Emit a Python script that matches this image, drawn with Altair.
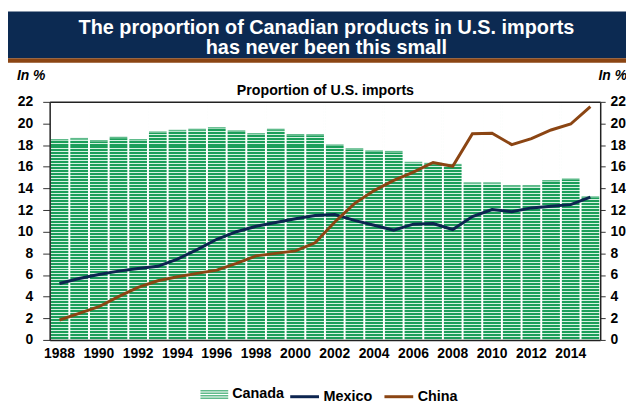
import altair as alt
import pandas as pd

# ---- data ----
years = list(range(1988, 2016))
canada = [18.5, 18.6, 18.4, 18.7, 18.5, 19.2, 19.35, 19.45, 19.6, 19.3, 19.05, 19.45, 18.95, 18.95,
          18.0, 17.65, 17.45, 17.4, 16.4, 16.3, 16.2, 14.5, 14.5, 14.25, 14.25, 14.7, 14.85, 13.2]
mexico = [5.22, 5.68, 6.05, 6.36, 6.6, 6.8, 7.47, 8.35, 9.3, 10.0, 10.5, 10.85, 11.2, 11.5,
          11.58, 11.05, 10.6, 10.15, 10.7, 10.75, 10.2, 11.4, 12.05, 11.85, 12.2, 12.35, 12.5, 13.2]
china = [1.84, 2.45, 3.07, 4.0, 4.85, 5.47, 5.84, 6.15, 6.45, 7.07, 7.77, 8.0, 8.23, 8.97,
         10.9, 12.6, 13.8, 14.75, 15.5, 16.4, 16.05, 19.05, 19.1, 18.05, 18.6, 19.4, 19.95, 21.55]
y_ticks = list(range(0, 23, 2))
x_labels = list(range(1988, 2015, 2))
title_lines = ["The proportion of Canadian products in U.S. imports", "has never been this small"]
subtitle = "Proportion of U.S. imports"
unit = "In %"

FONT = "Liberation Sans"
NAVY = "#0c2a52"
BROWN = "#8b4513"
MEX = "#0d2550"
DARK_G = "#1b9e5a"
LIGHT_G = "#d6f2e2"
W, H = 555, 240

wide = pd.DataFrame({"Year": years, "Canada": canada, "Country": ["Canada"] * len(years)})
long = pd.DataFrame({
    "Year": years * 2,
    "Series": ["Mexico"] * len(years) + ["China"] * len(years),
    "Value": mexico + china,
})

# striped fill (80 stripes over the 0..22 range -> 3px period)
N = 80
stops = []
for k in range(N):
    a, b, c = k / N, (k + 2 / 3) / N, (k + 1) / N
    stops += [{"offset": a, "color": DARK_G}, {"offset": b, "color": DARK_G},
              {"offset": b, "color": LIGHT_G}, {"offset": c, "color": LIGHT_G}]
stripes = {"gradient": "linear", "x1": 0, "y1": 0, "x2": 0, "y2": 1, "stops": stops}

xscale = alt.Scale(paddingInner=0.1, paddingOuter=0.05)
yscale = alt.Scale(domain=[0, 22], nice=False)

lab = dict(labelFont=FONT, labelFontWeight="bold", labelFontSize=14, labelColor="black")

base = alt.Chart(wide)

stripe_layer = base.mark_bar(fill=stripes).encode(
    x=alt.X("Year:O", scale=xscale,
            axis=alt.Axis(orient="bottom", title=None, labelAngle=0, ticks=False, values=x_labels,
                          labelPadding=7, domain=True, domainColor="#222", domainWidth=1.5, zindex=1, **lab)),
    y=alt.Y(datum=22, type="quantitative", scale=yscale,
            axis=alt.Axis(orient="left", title=None, values=y_ticks, tickSize=7, tickColor="#333",
                          labelPadding=10, domainColor="#222", domainWidth=1.5, grid=False, zindex=1, **lab)),
    y2=alt.Y2(datum=0),
)

mask_layer = base.mark_bar(color="white", stroke="white", strokeWidth=1.5).encode(
    x=alt.X("Year:O", scale=xscale,
            axis=alt.Axis(orient="top", title=None, labels=False, ticks=False, domain=True,
                          domainColor="#222", domainWidth=1.5, zindex=1)),
    y=alt.Y("Canada:Q", scale=yscale, axis=None),
    y2=alt.Y2(datum=22),
)

canada_path = ("M-1,-0.321H1V-0.214H-1Z M-1,-0.143H1V-0.036H-1Z "
               "M-1,0.036H1V0.143H-1Z M-1,0.214H1V0.321H-1Z")

top_layer = base.mark_tick(thickness=1.5, size=17.8, orient="horizontal").encode(
    x=alt.X("Year:O", scale=xscale, axis=None),
    y=alt.Y("Canada:Q", scale=yscale, axis=None),
    color=alt.Color("Country:N", scale=alt.Scale(domain=["Canada"], range=[DARK_G]),
                    legend=alt.Legend(title=None, orient="none", legendX=152, legendY=281,
                                      symbolType=canada_path, symbolSize=784, symbolStrokeWidth=0,
                                      labelOffset=4, labelFont=FONT, labelFontWeight="bold",
                                      labelFontSize=14.5, labelColor="black")),
)

line_layer = alt.Chart(long).mark_line(strokeWidth=3).encode(
    x=alt.X("Year:O", scale=xscale, axis=None),
    y=alt.Y("Value:Q", scale=yscale,
            axis=alt.Axis(orient="right", title=None, values=y_ticks, tickSize=5, tickColor="#333",
                          labelPadding=5, domainColor="#222", domainWidth=1.5, grid=False, zindex=1, **lab)),
    stroke=alt.Stroke("Series:N", scale=alt.Scale(domain=["Mexico", "China"], range=[MEX, BROWN]),
                      legend=alt.Legend(title=None, orient="none", legendX=241, legendY=281,
                                        direction="horizontal", symbolType="stroke", symbolSize=841,
                                        symbolStrokeWidth=3, labelOffset=3, columnPadding=5,
                                        labelFont=FONT, labelFontWeight="bold", labelFontSize=14.5,
                                        labelColor="black")),
    order=alt.Order("Year:O"),
)

one = pd.DataFrame({"k": [0]})
banner = alt.Chart(one).mark_rect(color=NAVY).encode(
    x=alt.value(-43), x2=alt.value(590), y=alt.value(-91), y2=alt.value(-44))
brown = alt.Chart(one).mark_rect(color=BROWN).encode(
    x=alt.value(-43), x2=alt.value(590), y=alt.value(-44), y2=alt.value(-39.5))


def text_layer(txt, x, y, size, color="black", align="center", style="normal", baseline="alphabetic"):
    return alt.Chart(pd.DataFrame({"t": [txt]})).mark_text(
        font=FONT, fontWeight="bold", fontStyle=style, fontSize=size, color=color,
        align=align, baseline=baseline
    ).encode(text="t:N", x=alt.value(x), y=alt.value(y))


title1 = text_layer(title_lines[0], 279, -68, 20, color="white")
title2 = text_layer(title_lines[1], 279, -48, 20, color="white")
sub_layer = text_layer(subtitle, 278, -7, 14.3)
unit_l = text_layer(unit, -33, -26, 14, align="left", style="italic", baseline="middle")
unit_r = text_layer(unit, 582, -26, 14, align="right", style="italic", baseline="middle")

chart = alt.layer(
    stripe_layer, mask_layer, top_layer, line_layer,
    banner, brown, title1, title2, sub_layer, unit_l, unit_r,
).resolve_scale(
    y="shared", x="shared"
).resolve_axis(
    y="independent", x="independent"
).properties(
    width=W, height=H,
    autosize=alt.AutoSizeParams(type="none"),
    padding={"left": 42, "top": 93, "right": 26, "bottom": 66},
    background="white",
).configure_view(stroke="transparent")

chart.save("out.html", embed_options={"renderer": "svg", "actions": False})
